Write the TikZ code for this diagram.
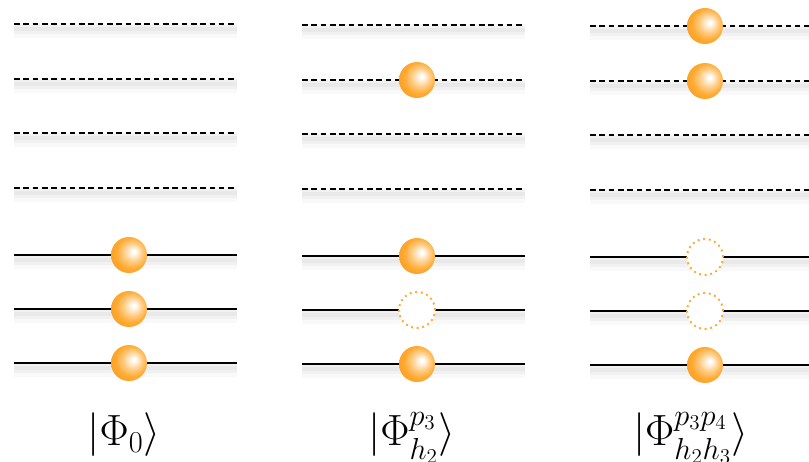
\documentclass[tikz,border=0pt]{standalone}
\usepackage{amsmath,amssymb}
\usetikzlibrary{positioning,calc}
\definecolor{ballorange}{RGB}{255,170,50}
\definecolor{ballrim}{RGB}{253,155,30}
\pgfdeclareradialshading{orangeball}{\pgfpoint{7bp}{5bp}}{%
  color(0bp)=(white); color(2bp)=(white); color(13bp)=(ballorange!60!white);
  color(22bp)=(ballorange); color(32bp)=(ballrim); color(50bp)=(ballrim)}

\begin{document}
\begin{tikzpicture}[x=0.02cm, y=-0.02cm,
    occ/.style={circle, minimum size=0.72cm, inner sep=0pt, shading=orangeball},
    hole/.style={circle, minimum size=0.72cm, inner sep=0pt, draw=ballorange, fill=white, line width=1.1pt, dash pattern=on 1.1pt off 2.1pt},
    unocc/.style={line width=1.3pt, dash pattern=on 3.2pt off 2.1pt},
    level/.style={line width=1.25pt},
    shade1/.style={line width=0.3cm, black, opacity=0.025},
    shade2/.style={line width=0.18cm, black, opacity=0.03},
    shade3/.style={line width=0.08cm, black, opacity=0.03},
    lbl/.style={font=\fontsize{26}{31}\selectfont, anchor=base}
]
\useasboundingbox (0,0) rectangle (809,462);

% levels: particle states dashed, hole states solid
\foreach \c in {0,1,2} {
  \foreach \y in {24,79,133,188} {
    \draw[shade1] (14+288*\c, \y+\c+7) -- (237+288*\c, \y+\c+7);
    \draw[shade2] (14+288*\c, \y+\c+6) -- (237+288*\c, \y+\c+6);
    \draw[shade3] (14+288*\c, \y+\c+5) -- (237+288*\c, \y+\c+5);
    \draw[unocc] (14+288*\c, \y+\c) -- (237+288*\c, \y+\c);
  }
  \foreach \y in {255,309,363} {
    \draw[shade1] (14+288*\c, \y+\c+7) -- (237+288*\c, \y+\c+7);
    \draw[shade2] (14+288*\c, \y+\c+6) -- (237+288*\c, \y+\c+6);
    \draw[shade3] (14+288*\c, \y+\c+5) -- (237+288*\c, \y+\c+5);
    \draw[level] (14+288*\c, \y+\c) -- (237+288*\c, \y+\c);
  }
}

% reference state
\node[occ] (h1a) at (129,255) {};
\node[occ] (h2a) at (129,309) {};
\node[occ] (h3a) at (129,363) {};
\node[lbl] (phi0) at (124,446) {$|\Phi_0\rangle$};

% single excitation
\node[occ] (p3b) at (417,80) {};
\node[occ] (h1b) at (417,256) {};
\node[hole] (h2b) at (417,310) {};
\node[occ] (h3b) at (417,364) {};
\node[lbl] (phi1) at (412,446) {$|\Phi^{p_3}_{h_2}\rangle$};

% double excitation
\node[occ] (p4c) at (705,26) {};
\node[occ] (p3c) at (705,81) {};
\node[hole] (h1c) at (705,257) {};
\node[hole] (h2c) at (705,311) {};
\node[occ] (h3c) at (705,365) {};
\node[lbl] (phi2) at (691,446) {$|\Phi^{p_3p_4}_{h_2h_3}\rangle$};
\end{tikzpicture}
\end{document}
